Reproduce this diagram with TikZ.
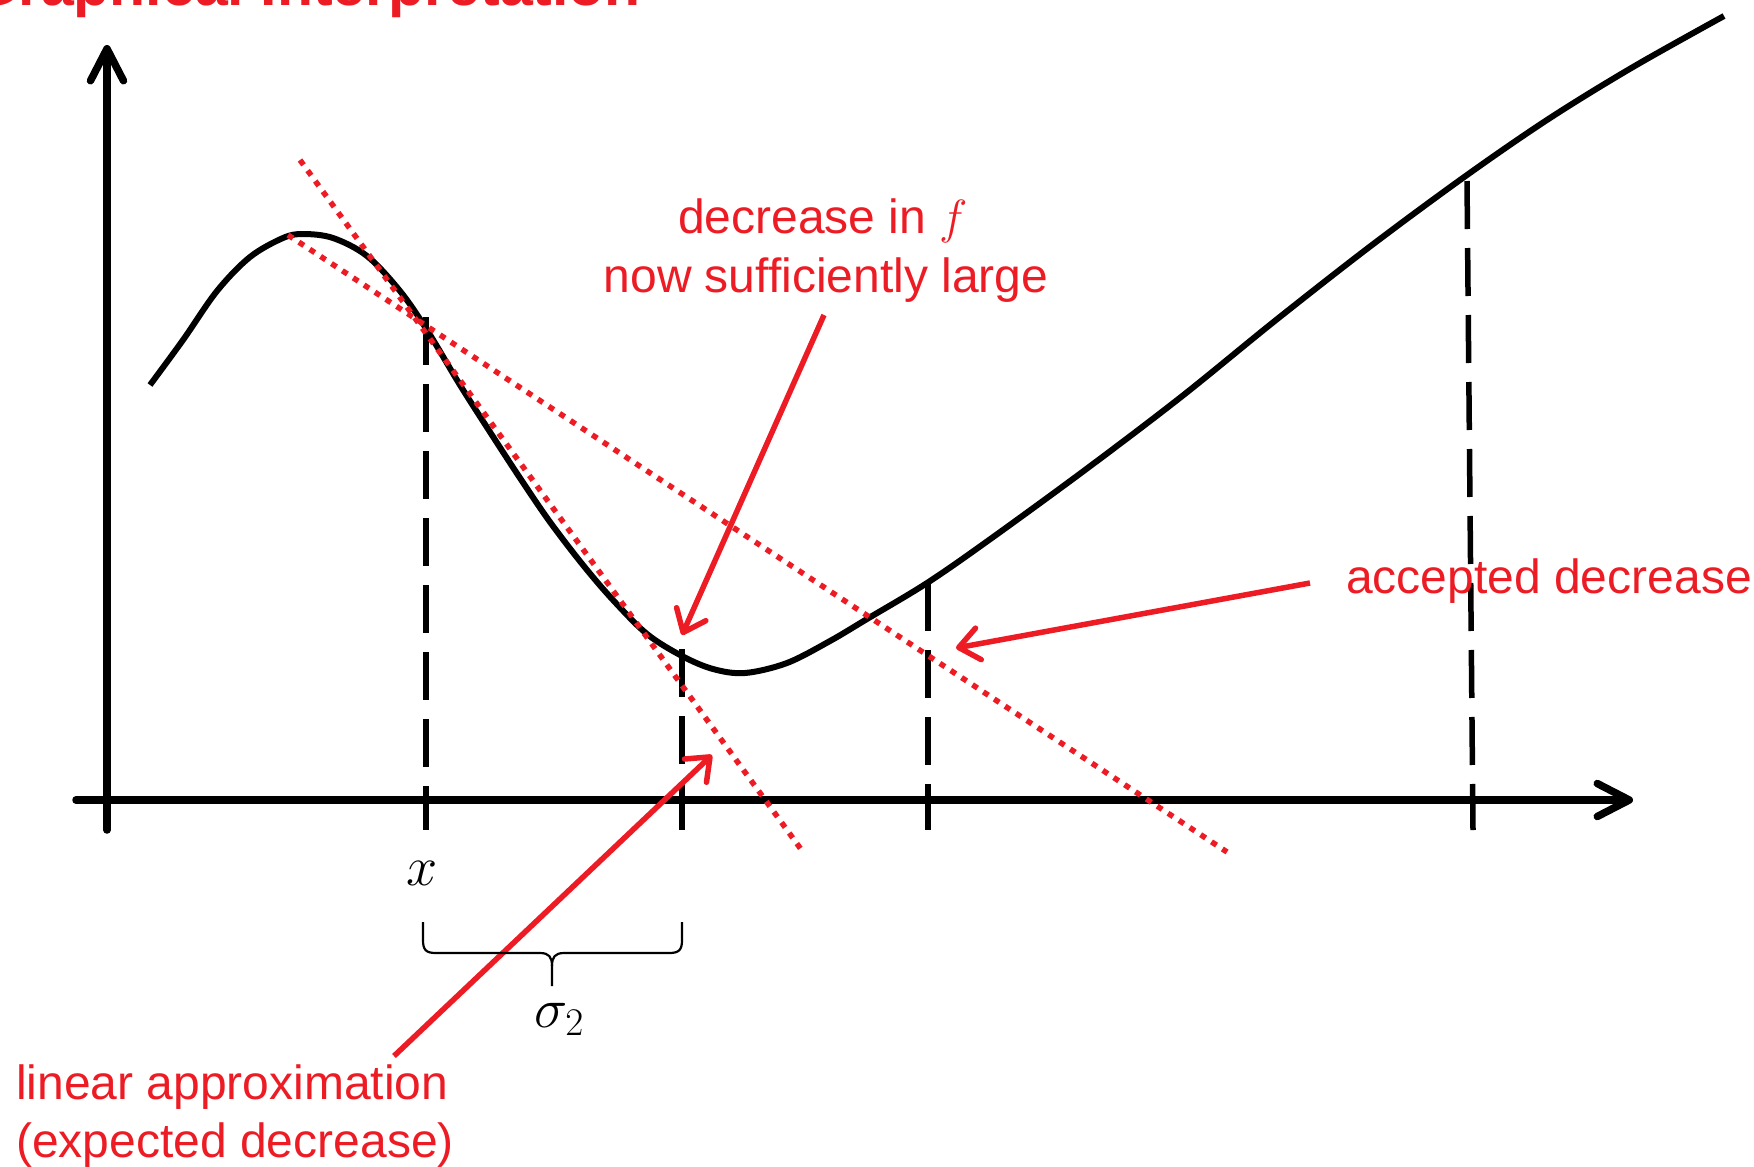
\RequirePackage{fix-cm}
\documentclass[tikz,border=0pt]{standalone}
\usepackage{fontspec}
\setmainfont{Liberation Sans}
\usetikzlibrary{arrows.meta}
\definecolor{pptred}{RGB}{237,28,36}
\begin{document}
\begin{tikzpicture}[x=1bp,y=-1bp,
  axis/.style={line width=7.5bp,line cap=round,-{Straight Barb[length=32bp,width=33bp,round]}},
  fcurve/.style={line width=6bp,line join=round},
  vdash/.style={line width=5.5bp,dash pattern=on 48bp off 19bp},
  approx/.style={pptred,line width=5.5bp,dash pattern=on 6bp off 7bp},
  redarrow/.style={pptred,line width=5.5bp,-{Straight Barb[length=20bp,width=32bp,round]}},
  lbl/.style={text=pptred,inner sep=0,font=\fontsize{48bp}{58bp}\selectfont},
  mlbl/.style={inner sep=0,font=\fontsize{56bp}{66bp}\selectfont},
  bracestyle/.style={line width=2.2bp,line join=round}]
\useasboundingbox (0,0) rectangle (1754,1166);
% title (cut off at top)
\node[anchor=base west,text=pptred,inner sep=0,font=\fontsize{59bp}{70bp}\selectfont\bfseries] (title) at (-28,5) {Graphical Interpretation};
% axes
\coordinate (ybot) at (107,830);
\coordinate (ytop) at (107,45);
\coordinate (xleft) at (76,800);
\coordinate (xright) at (1633,800);
\draw[axis] (ybot) -- (ytop);
\draw[axis] (xleft) -- (xright);
% function
\draw[fcurve] plot[smooth,tension=0.55] coordinates {
(150,385) (183,340) (217,291) (250,257) (283,238) (303,234) (333,238) (367,256)
(400,291) (427,330) (460,385) (490,432) (520,478) (550,522) (583,565) (613,600)
(647,634) (682,656) (713,669) (745,673) (787,663) (830,641) (867,619) (927,583)
(989,540) (1085,470) (1181,397) (1276,320) (1372,245) (1467,175) (1550,118)
(1633,67) (1724,16)};
% dashed verticals
\coordinate (d1t) at (426,317);  \coordinate (d1b) at (426,830);
\coordinate (d2t) at (682,649);  \coordinate (d2b) at (682,830);
\coordinate (d3t) at (928,583);  \coordinate (d3b) at (928,830);
\coordinate (d4t) at (1467,181); \coordinate (d4b) at (1473,830);
\draw[vdash] (d1t) -- (d1b);
\draw[vdash] (d2t) -- (d2b);
\draw[vdash] (d3t) -- (d3b);
\draw[vdash] (d4t) -- (d4b);
% linear approximations
\coordinate (l1a) at (300,160);  \coordinate (l1b) at (803,852);
\coordinate (l2a) at (288,235);  \coordinate (l2b) at (1227,852);
\draw[approx] (l1a) -- (l1b);
\draw[approx] (l2a) -- (l2b);
% labels
\node[lbl,anchor=base] (dec1) at (823,233) {decrease in $f$};
\node[lbl,anchor=base] (dec2) at (826,292) {now sufficiently large};
\node[lbl,anchor=base west] (acc) at (1346,593) {accepted decrease};
\node[lbl,anchor=base west] (lin1) at (16,1099) {linear approximation};
\node[lbl,anchor=base west] (lin2) at (16,1157) {(expected decrease)};
\node[mlbl,anchor=base] (xl) at (422,885) {$x$};
\node[mlbl,anchor=base] (sig) at (559,1027) {$\sigma_2$};
% red arrows
\coordinate (aS) at (824,315); \coordinate (aT) at (682,635);
\coordinate (bS) at (1310,583); \coordinate (bT) at (956,648);
\coordinate (cS) at (394,1056); \coordinate (cT) at (712,755);
\draw[redarrow] (aS) -- (aT);
\draw[redarrow] (bS) -- (bT);
\draw[redarrow] (cS) -- (cT);
% brace
\draw[bracestyle] (423,922) -- (423,940) .. controls (423,950) and (426,953) .. (436,953)
  -- (540,953) .. controls (549,953) and (552,957) .. (552,966) -- (552,986);
\draw[bracestyle] (552,966) .. controls (552,957) and (555,953) .. (564,953)
  -- (669,953) .. controls (679,953) and (682,950) .. (682,940) -- (682,922);
\end{tikzpicture}
\end{document}
